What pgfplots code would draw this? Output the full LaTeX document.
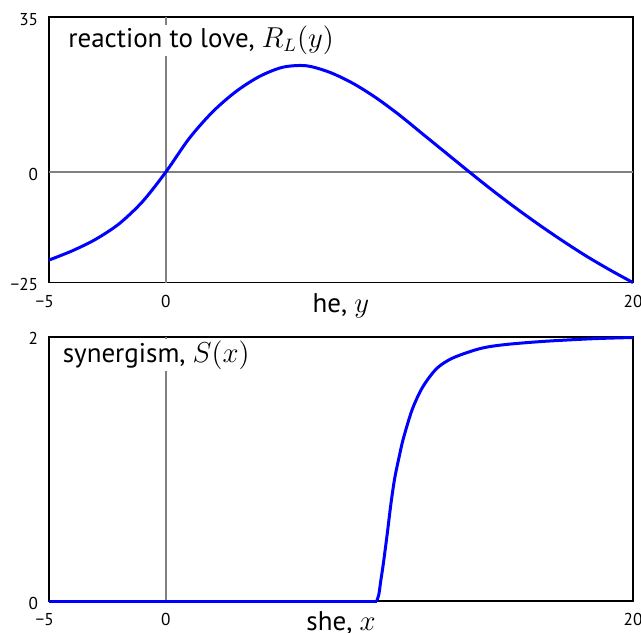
\documentclass[border=0pt]{standalone}
\usepackage[no-math]{fontspec}
\setmainfont{PT Sans}
\usepackage{pgfplots}
\pgfplotsset{compat=1.18}

\definecolor{curveblue}{RGB}{0,0,255}
\definecolor{refgray}{RGB}{128,128,128}

\pgfplotsset{
  lovepanel/.style={
    scale only axis, width=292pt, anchor=south west,
    xmin=-5, xmax=20, clip=false,
    axis line style={line width=0.85pt},
    major tick length=0pt,
    xtick={-5,0,20}, xticklabels={\llap{−}5,0,20},
    tick label style={font=\fontsize{8.6}{10}\selectfont, inner sep=0pt},
    xticklabel style={anchor=base, yshift=-12.4pt},
    yticklabel style={anchor=east, xshift=-5.3pt, yshift=-1pt},
    x label style={at={(axis description cs:0.5,0)}, anchor=base,
                   yshift=-14.7pt, inner sep=0pt, font=\fontsize{13.5}{15}\selectfont},
  },
}
\tikzset{
  paneltitle/.style={anchor=base west, fill=white, inner xsep=2pt, inner ysep=0.6pt,
                     font=\fontsize{13.5}{15}\selectfont},
}

\begin{document}
\begin{tikzpicture}
\useasboundingbox (0,0) rectangle (320.5pt,-316pt);

% reaction to love
\begin{axis}[lovepanel, at={(24.5pt,-141.3pt)}, height=132.65pt,
  ymin=-25, ymax=35, ytick={-25,0,35}, yticklabels={−25,0,35},
  xlabel={he, $y$}]
  \addplot[refgray, line width=1pt] coordinates {(0,-25) (0,35)};
  \addplot[refgray, line width=1pt] coordinates {(-5,0) (20,0)};
  \node[paneltitle, xshift=7.5pt, yshift=-15pt] at (rel axis cs:0,1)
    {reaction to love, $R_L(y)$};
  \addplot[curveblue, line width=1.5pt, smooth] coordinates {
    (-5,-19.9) (-4,-17.8) (-3,-15.2) (-2,-11.7) (-1,-6.7) (0,0)
    (1,7.6) (2,13.6) (3,18.2) (4,21.6) (5,23.7) (6,24.05) (7,22.6)
    (8,20.1) (9,16.8) (10,12.9) (11,8.6) (12,4.3) (13,0) (14,-4.2)
    (15,-8.2) (16,-12.0) (17,-15.6) (18,-19.0) (19,-22.1) (20,-25.0)
  };
\end{axis}

% synergism
\begin{axis}[lovepanel, at={(24.5pt,-300.5pt)}, height=132.15pt,
  ymin=0, ymax=2, ytick={0,2}, yticklabels={0,2},
  xlabel={she, $x$}]
  \addplot[refgray, line width=1pt] coordinates {(0,0) (0,2)};
  \node[paneltitle, xshift=4.7pt, yshift=-12.7pt] at (rel axis cs:0,1)
    {synergism, $S(x)$};
  \addplot[curveblue, line width=1.5pt] coordinates {(-5,0) (9.03,0)};
  \addplot[curveblue, line width=1.5pt, smooth] coordinates {
    (9.03,0) (9.12,0.05) (9.2,0.15) (9.31,0.28) (9.48,0.51) (9.64,0.74)
    (9.8,0.93) (10.0,1.1) (10.17,1.23) (10.55,1.45) (11.0,1.62)
    (11.6,1.76) (12.3,1.84) (13.45,1.91) (14.5,1.94) (16.2,1.965)
    (18.3,1.985) (20,1.994)
  };
\end{axis}
\end{tikzpicture}
\end{document}
